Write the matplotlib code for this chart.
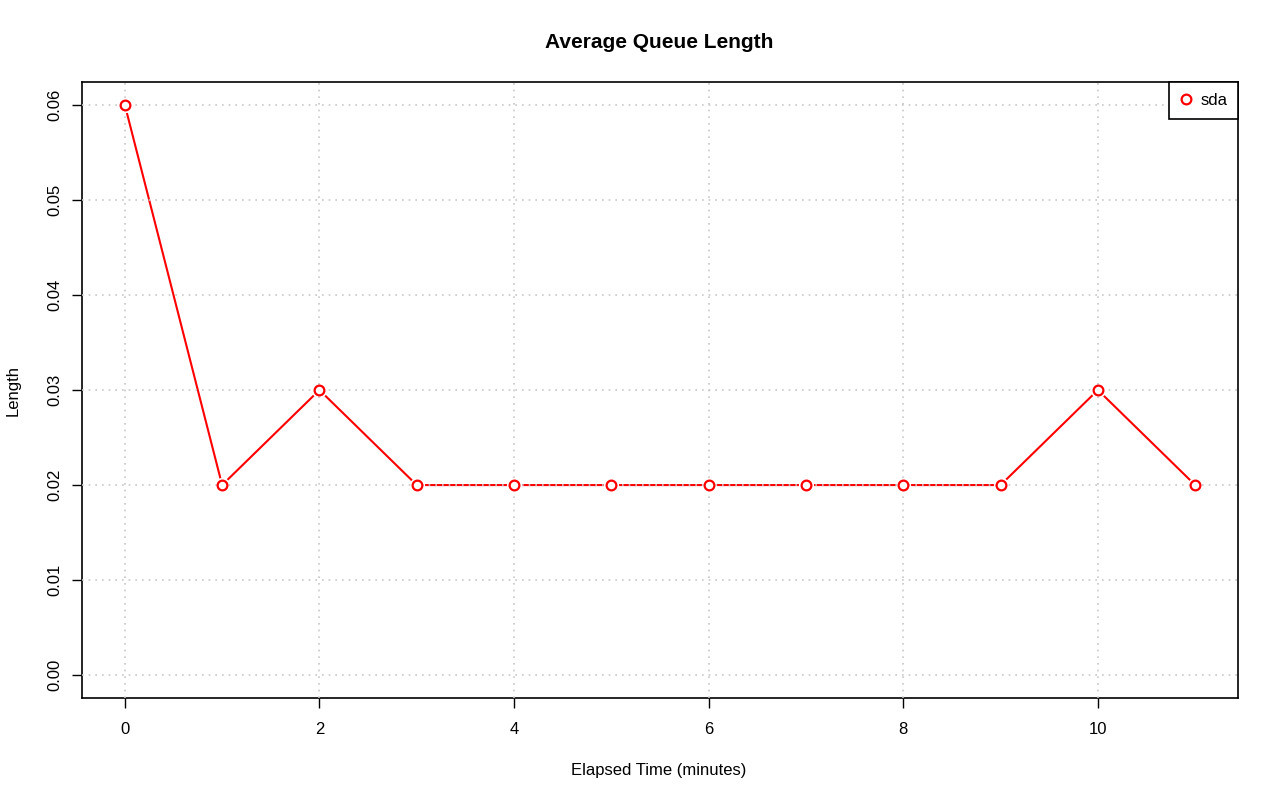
import matplotlib
matplotlib.use("Agg")
import matplotlib.pyplot as plt

plt.rcParams["font.family"] = ["Liberation Sans", "DejaVu Sans"]

minutes = [0, 1, 2, 3, 4, 5, 6, 7, 8, 9, 10, 11]
sda = [0.06, 0.02, 0.03, 0.02, 0.02, 0.02, 0.02, 0.02, 0.02, 0.02, 0.03, 0.02]
x_ticks = [0, 2, 4, 6, 8, 10]
y_ticks = [0.00, 0.01, 0.02, 0.03, 0.04, 0.05, 0.06]

fig = plt.figure(figsize=(12.8, 8.01), dpi=100)
ax = fig.add_axes([82 / 1280, 103 / 801, (1238 - 82) / 1280, (698 - 82) / 801])

ax.set_xlim(-0.44, 11.44)
ax.set_ylim(-0.0024, 0.0624)

# line, then white halos to leave gaps like R's type="b"
ax.plot(minutes, sda, color="red", lw=1.5, zorder=2)
ax.plot(minutes, sda, ls="none", marker="o", ms=11, mfc="white", mec="none", zorder=3)

# dotted grid drawn on top, like grid() after plot()
for xv in x_ticks:
    ax.axvline(xv, color="#c8c8c8", ls=(0, (1, 3)), lw=1.2, zorder=4)
for yv in y_ticks:
    ax.axhline(yv, color="#c8c8c8", ls=(0, (1, 3)), lw=1.2, zorder=4)

ax.plot(minutes, sda, ls="none", marker="o", ms=7, mfc="white", mec="red", mew=1.6,
        zorder=5, label="sda")

ax.set_xticks(x_ticks)
ax.set_xticklabels([str(v) for v in x_ticks])
ax.set_yticks(y_ticks)
ax.set_yticklabels([f"{v:.2f}" for v in y_ticks], rotation=90, va="center")
ax.tick_params(direction="out", length=7, width=1, labelsize=12)
ax.tick_params(axis="x", pad=10)
ax.tick_params(axis="y", pad=7)
for s in ax.spines.values():
    s.set_linewidth(1.2)

fig.text(659 / 1280, 1 - 42 / 801, "Average Queue Length", ha="center", va="center",
         fontsize=15, fontweight="bold")
fig.text(659 / 1280, 1 - 770 / 801, "Elapsed Time (minutes)", ha="center", va="center",
         fontsize=12)
fig.text(13 / 1280, 1 - 390 / 801, "Length", ha="center", va="center", rotation=90,
         fontsize=12)

leg = ax.legend(loc="upper right", borderaxespad=0, fancybox=False, frameon=True,
                edgecolor="black", framealpha=1, fontsize=12, handlelength=0.7,
                handletextpad=0.5, borderpad=0.65)
leg.get_frame().set_linewidth(1.2)
leg.set_zorder(6)

fig.savefig("out.png", dpi=100)
